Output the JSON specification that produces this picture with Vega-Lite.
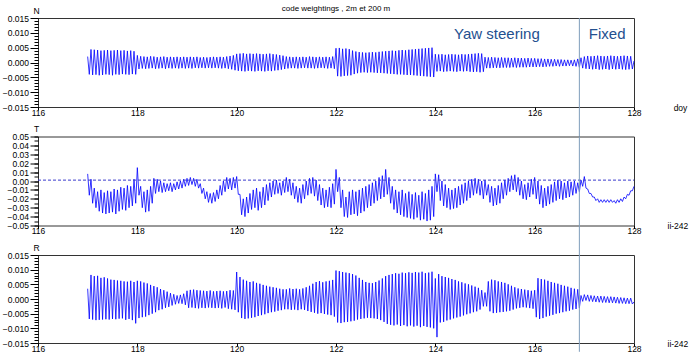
{
"$schema": "https://vega.github.io/schema/vega-lite/v6.json",
"padding": {"left": 1, "top": 4, "right": 0, "bottom": 0},
"bounds": "flush",
"spacing": 29.5,
"title": {"text": "code weightings , 2m et 200 m", "fontSize": 8, "fontWeight": "normal", "font": "Liberation Sans", "color": "#000000", "anchor": "middle", "frame": "group", "offset": -7},
"config": {
  "font": "Liberation Sans",
  "view": {"stroke": "#333333", "strokeWidth": 1},
  "axis": {"labelFont": "Liberation Sans", "labelFontSize": 8.5, "labelColor": "#000000", "tickColor": "#000000", "tickWidth": 1, "domain": false, "grid": false, "titleFont": "Liberation Sans", "titleFontWeight": "normal", "titleFontSize": 8.5, "titleColor": "#000000", "labelFlush": false, "labelOverlap": false}
},
"datasets": {"s": [
{"d":117,"n":0.0020,"t":0.008,"r":0.0035},{"d":117.033,"n":-0.0040,"t":-0.016,"r":-0.0068},{"d":117.067,"n":0.0044,"t":0.002,"r":0.0082},{"d":117.1,"n":-0.0042,"t":-0.025,"r":-0.0070},{"d":117.133,"n":0.0043,"t":-0.008,"r":0.0078},{"d":117.167,"n":-0.0041,"t":-0.030,"r":-0.0072},{"d":117.2,"n":0.0042,"t":-0.012,"r":0.0079},{"d":117.233,"n":-0.0043,"t":-0.034,"r":-0.0071},{"d":117.267,"n":0.0040,"t":-0.010,"r":0.0072},{"d":117.3,"n":-0.0042,"t":-0.036,"r":-0.0070},{"d":117.333,"n":0.0041,"t":-0.013,"r":0.0074},{"d":117.367,"n":-0.0040,"t":-0.037,"r":-0.0069},{"d":117.4,"n":0.0042,"t":-0.011,"r":0.0070},{"d":117.433,"n":-0.0041,"t":-0.036,"r":-0.0070},{"d":117.467,"n":0.0040,"t":-0.012,"r":0.0066},{"d":117.5,"n":-0.0043,"t":-0.035,"r":-0.0068},{"d":117.533,"n":0.0041,"t":-0.009,"r":0.0065},{"d":117.567,"n":-0.0040,"t":-0.037,"r":-0.0069},{"d":117.6,"n":0.0042,"t":-0.010,"r":0.0063},{"d":117.633,"n":-0.0041,"t":-0.034,"r":-0.0067},{"d":117.667,"n":0.0040,"t":-0.007,"r":0.0062},{"d":117.7,"n":-0.0039,"t":-0.032,"r":-0.0066},{"d":117.733,"n":0.0041,"t":-0.008,"r":0.0060},{"d":117.767,"n":-0.0040,"t":-0.033,"r":-0.0071},{"d":117.8,"n":0.0039,"t":-0.005,"r":0.0059},{"d":117.833,"n":-0.0041,"t":-0.030,"r":-0.0068},{"d":117.867,"n":0.0040,"t":-0.006,"r":0.0062},{"d":117.9,"n":-0.0039,"t":-0.028,"r":-0.0072},{"d":117.933,"n":0.0038,"t":0.002,"r":0.0058},{"d":117.967,"n":-0.0040,"t":-0.025,"r":-0.0083},
{"d":118,"n":0.0024,"t":0.015,"r":0.0062},{"d":118.033,"n":-0.0022,"t":-0.016,"r":-0.0065},{"d":118.067,"n":0.0021,"t":-0.006,"r":0.0060},{"d":118.1,"n":-0.0020,"t":-0.030,"r":-0.0062},{"d":118.133,"n":0.0020,"t":-0.012,"r":0.0056},{"d":118.167,"n":-0.0021,"t":-0.035,"r":-0.0060},{"d":118.2,"n":0.0019,"t":-0.010,"r":0.0053},{"d":118.233,"n":-0.0020,"t":-0.034,"r":-0.0055},{"d":118.267,"n":0.0021,"t":-0.006,"r":0.0048},{"d":118.3,"n":-0.0019,"t":-0.025,"r":-0.0050},{"d":118.333,"n":0.0020,"t":0.003,"r":0.0044},{"d":118.367,"n":-0.0021,"t":-0.014,"r":-0.0045},{"d":118.4,"n":0.0018,"t":0.002,"r":0.0040},{"d":118.433,"n":-0.0020,"t":-0.012,"r":-0.0038},{"d":118.467,"n":0.0019,"t":0.000,"r":0.0034},{"d":118.5,"n":-0.0019,"t":-0.013,"r":-0.0035},{"d":118.533,"n":0.0020,"t":-0.002,"r":0.0030},{"d":118.567,"n":-0.0021,"t":-0.012,"r":-0.0030},{"d":118.6,"n":0.0018,"t":-0.003,"r":0.0025},{"d":118.633,"n":-0.0019,"t":-0.011,"r":-0.0027},{"d":118.667,"n":0.0019,"t":-0.002,"r":0.0020},{"d":118.7,"n":-0.0020,"t":-0.012,"r":-0.0022},{"d":118.733,"n":0.0018,"t":-0.003,"r":0.0016},{"d":118.767,"n":-0.0019,"t":-0.010,"r":-0.0018},{"d":118.8,"n":0.0019,"t":-0.001,"r":0.0012},{"d":118.833,"n":-0.0020,"t":-0.009,"r":-0.0015},{"d":118.867,"n":0.0018,"t":0.000,"r":0.0014},{"d":118.9,"n":-0.0019,"t":-0.008,"r":-0.0016},{"d":118.933,"n":0.0019,"t":0.002,"r":0.0018},{"d":118.967,"n":-0.0020,"t":-0.006,"r":-0.0020},
{"d":119,"n":0.0018,"t":0.003,"r":0.0028},{"d":119.033,"n":-0.0019,"t":-0.005,"r":-0.0030},{"d":119.067,"n":0.0019,"t":0.004,"r":0.0031},{"d":119.1,"n":-0.0020,"t":-0.004,"r":-0.0029},{"d":119.133,"n":0.0018,"t":0.003,"r":0.0032},{"d":119.167,"n":-0.0018,"t":-0.006,"r":-0.0031},{"d":119.2,"n":0.0019,"t":0.002,"r":0.0030},{"d":119.233,"n":-0.0019,"t":-0.008,"r":-0.0032},{"d":119.267,"n":0.0017,"t":-0.003,"r":0.0029},{"d":119.3,"n":-0.0018,"t":-0.014,"r":-0.0030},{"d":119.333,"n":0.0018,"t":-0.008,"r":0.0028},{"d":119.367,"n":-0.0019,"t":-0.020,"r":-0.0031},{"d":119.4,"n":0.0017,"t":-0.012,"r":0.0027},{"d":119.433,"n":-0.0018,"t":-0.024,"r":-0.0029},{"d":119.467,"n":0.0018,"t":-0.014,"r":0.0029},{"d":119.5,"n":-0.0019,"t":-0.025,"r":-0.0030},{"d":119.533,"n":0.0019,"t":-0.013,"r":0.0026},{"d":119.567,"n":-0.0018,"t":-0.023,"r":-0.0031},{"d":119.6,"n":0.0018,"t":-0.010,"r":0.0027},{"d":119.633,"n":-0.0019,"t":-0.020,"r":-0.0030},{"d":119.667,"n":0.0019,"t":-0.005,"r":0.0028},{"d":119.7,"n":-0.0020,"t":-0.016,"r":-0.0032},{"d":119.733,"n":0.0018,"t":0.000,"r":0.0026},{"d":119.767,"n":-0.0019,"t":-0.012,"r":-0.0029},{"d":119.8,"n":0.0020,"t":0.004,"r":0.0027},{"d":119.833,"n":-0.0021,"t":-0.009,"r":-0.0033},{"d":119.867,"n":0.0022,"t":0.003,"r":0.0030},{"d":119.9,"n":-0.0023,"t":-0.010,"r":-0.0035},{"d":119.933,"n":0.0024,"t":0.004,"r":0.0029},{"d":119.967,"n":-0.0026,"t":-0.008,"r":-0.0037},
{"d":120,"n":0.0029,"t":0.005,"r":0.0092},{"d":120.033,"n":-0.0028,"t":-0.015,"r":-0.0045},{"d":120.067,"n":0.0030,"t":-0.015,"r":0.0075},{"d":120.1,"n":-0.0029,"t":-0.038,"r":-0.0065},{"d":120.133,"n":0.0031,"t":-0.020,"r":0.0066},{"d":120.167,"n":-0.0030,"t":-0.040,"r":-0.0068},{"d":120.2,"n":0.0029,"t":-0.018,"r":0.0062},{"d":120.233,"n":-0.0028,"t":-0.036,"r":-0.0066},{"d":120.267,"n":0.0030,"t":-0.014,"r":0.0058},{"d":120.3,"n":-0.0029,"t":-0.032,"r":-0.0064},{"d":120.333,"n":0.0029,"t":-0.010,"r":0.0060},{"d":120.367,"n":-0.0030,"t":-0.030,"r":-0.0062},{"d":120.4,"n":0.0030,"t":-0.008,"r":0.0055},{"d":120.433,"n":-0.0028,"t":-0.033,"r":-0.0058},{"d":120.467,"n":0.0029,"t":-0.012,"r":0.0052},{"d":120.5,"n":-0.0029,"t":-0.030,"r":-0.0055},{"d":120.533,"n":0.0028,"t":-0.007,"r":0.0048},{"d":120.567,"n":-0.0030,"t":-0.027,"r":-0.0052},{"d":120.6,"n":0.0029,"t":-0.004,"r":0.0045},{"d":120.633,"n":-0.0028,"t":-0.022,"r":-0.0048},{"d":120.667,"n":0.0030,"t":-0.002,"r":0.0042},{"d":120.7,"n":-0.0029,"t":-0.018,"r":-0.0045},{"d":120.733,"n":0.0028,"t":0.000,"r":0.0040},{"d":120.767,"n":-0.0027,"t":-0.015,"r":-0.0043},{"d":120.8,"n":0.0027,"t":0.001,"r":0.0038},{"d":120.833,"n":-0.0026,"t":-0.014,"r":-0.0040},{"d":120.867,"n":0.0025,"t":-0.002,"r":0.0035},{"d":120.9,"n":-0.0024,"t":-0.016,"r":-0.0038},{"d":120.933,"n":0.0023,"t":0.000,"r":0.0033},{"d":120.967,"n":-0.0022,"t":-0.013,"r":-0.0035},
{"d":121,"n":0.0020,"t":0.004,"r":0.0033},{"d":121.033,"n":-0.0020,"t":-0.012,"r":-0.0035},{"d":121.067,"n":0.0019,"t":0.002,"r":0.0036},{"d":121.1,"n":-0.0019,"t":-0.016,"r":-0.0037},{"d":121.133,"n":0.0018,"t":-0.002,"r":0.0034},{"d":121.167,"n":-0.0019,"t":-0.020,"r":-0.0036},{"d":121.2,"n":0.0019,"t":-0.006,"r":0.0035},{"d":121.233,"n":-0.0020,"t":-0.024,"r":-0.0038},{"d":121.267,"n":0.0018,"t":-0.008,"r":0.0033},{"d":121.3,"n":-0.0019,"t":-0.025,"r":-0.0035},{"d":121.333,"n":0.0019,"t":-0.004,"r":0.0036},{"d":121.367,"n":-0.0018,"t":-0.020,"r":-0.0037},{"d":121.4,"n":0.0018,"t":0.000,"r":0.0040},{"d":121.433,"n":-0.0019,"t":-0.016,"r":-0.0041},{"d":121.467,"n":0.0020,"t":0.003,"r":0.0045},{"d":121.5,"n":-0.0019,"t":-0.014,"r":-0.0044},{"d":121.533,"n":0.0019,"t":0.004,"r":0.0052},{"d":121.567,"n":-0.0020,"t":-0.017,"r":-0.0047},{"d":121.6,"n":0.0018,"t":0.001,"r":0.0058},{"d":121.633,"n":-0.0019,"t":-0.022,"r":-0.0050},{"d":121.667,"n":0.0019,"t":-0.004,"r":0.0061},{"d":121.7,"n":-0.0018,"t":-0.027,"r":-0.0048},{"d":121.733,"n":0.0018,"t":-0.008,"r":0.0057},{"d":121.767,"n":-0.0019,"t":-0.030,"r":-0.0051},{"d":121.8,"n":0.0019,"t":-0.010,"r":0.0060},{"d":121.833,"n":-0.0020,"t":-0.029,"r":-0.0053},{"d":121.867,"n":0.0018,"t":-0.007,"r":0.0062},{"d":121.9,"n":-0.0019,"t":-0.030,"r":-0.0055},{"d":121.933,"n":0.0020,"t":-0.003,"r":0.0065},{"d":121.967,"n":-0.0021,"t":-0.026,"r":-0.0060},
{"d":122,"n":0.0048,"t":0.013,"r":0.0097},{"d":122.033,"n":-0.0046,"t":-0.012,"r":-0.0080},{"d":122.067,"n":0.0049,"t":0.004,"r":0.0095},{"d":122.1,"n":-0.0047,"t":-0.030,"r":-0.0082},{"d":122.133,"n":0.0046,"t":-0.010,"r":0.0092},{"d":122.167,"n":-0.0045,"t":-0.040,"r":-0.0079},{"d":122.2,"n":0.0047,"t":-0.018,"r":0.0090},{"d":122.233,"n":-0.0044,"t":-0.041,"r":-0.0078},{"d":122.267,"n":0.0045,"t":-0.012,"r":0.0088},{"d":122.3,"n":-0.0043,"t":-0.038,"r":-0.0076},{"d":122.333,"n":0.0040,"t":-0.010,"r":0.0085},{"d":122.367,"n":-0.0039,"t":-0.037,"r":-0.0074},{"d":122.4,"n":0.0037,"t":-0.012,"r":0.0080},{"d":122.433,"n":-0.0036,"t":-0.039,"r":-0.0070},{"d":122.467,"n":0.0035,"t":-0.010,"r":0.0072},{"d":122.5,"n":-0.0034,"t":-0.036,"r":-0.0068},{"d":122.533,"n":0.0034,"t":-0.008,"r":0.0065},{"d":122.567,"n":-0.0033,"t":-0.034,"r":-0.0066},{"d":122.6,"n":0.0033,"t":-0.006,"r":0.0058},{"d":122.633,"n":-0.0034,"t":-0.030,"r":-0.0064},{"d":122.667,"n":0.0034,"t":-0.004,"r":0.0055},{"d":122.7,"n":-0.0033,"t":-0.028,"r":-0.0065},{"d":122.733,"n":0.0035,"t":-0.002,"r":0.0054},{"d":122.767,"n":-0.0034,"t":-0.025,"r":-0.0066},{"d":122.8,"n":0.0034,"t":0.000,"r":0.0058},{"d":122.833,"n":-0.0035,"t":-0.022,"r":-0.0068},{"d":122.867,"n":0.0036,"t":0.004,"r":0.0063},{"d":122.9,"n":-0.0035,"t":-0.020,"r":-0.0072},{"d":122.933,"n":0.0037,"t":0.006,"r":0.0070},{"d":122.967,"n":-0.0036,"t":-0.018,"r":-0.0078},
{"d":123,"n":0.0038,"t":0.013,"r":0.0078},{"d":123.033,"n":-0.0037,"t":-0.015,"r":-0.0085},{"d":123.067,"n":0.0039,"t":0.004,"r":0.0082},{"d":123.1,"n":-0.0038,"t":-0.025,"r":-0.0088},{"d":123.133,"n":0.0040,"t":-0.006,"r":0.0085},{"d":123.167,"n":-0.0039,"t":-0.032,"r":-0.0090},{"d":123.2,"n":0.0039,"t":-0.010,"r":0.0088},{"d":123.233,"n":-0.0040,"t":-0.036,"r":-0.0087},{"d":123.267,"n":0.0041,"t":-0.012,"r":0.0086},{"d":123.3,"n":-0.0040,"t":-0.038,"r":-0.0092},{"d":123.333,"n":0.0042,"t":-0.010,"r":0.0090},{"d":123.367,"n":-0.0041,"t":-0.040,"r":-0.0089},{"d":123.4,"n":0.0041,"t":-0.014,"r":0.0088},{"d":123.433,"n":-0.0042,"t":-0.041,"r":-0.0093},{"d":123.467,"n":0.0043,"t":-0.012,"r":0.0091},{"d":123.5,"n":-0.0042,"t":-0.042,"r":-0.0090},{"d":123.533,"n":0.0044,"t":-0.015,"r":0.0089},{"d":123.567,"n":-0.0043,"t":-0.043,"r":-0.0094},{"d":123.6,"n":0.0045,"t":-0.013,"r":0.0092},{"d":123.633,"n":-0.0044,"t":-0.041,"r":-0.0091},{"d":123.667,"n":0.0046,"t":-0.016,"r":0.0090},{"d":123.7,"n":-0.0045,"t":-0.044,"r":-0.0096},{"d":123.733,"n":0.0047,"t":-0.012,"r":0.0093},{"d":123.767,"n":-0.0046,"t":-0.043,"r":-0.0092},{"d":123.8,"n":0.0048,"t":-0.014,"r":0.0088},{"d":123.833,"n":-0.0047,"t":-0.045,"r":-0.0095},{"d":123.867,"n":0.0049,"t":-0.010,"r":0.0090},{"d":123.9,"n":-0.0048,"t":-0.044,"r":-0.0097},{"d":123.933,"n":0.0050,"t":-0.006,"r":0.0093},{"d":123.967,"n":-0.0049,"t":-0.040,"r":-0.0100},
{"d":124,"n":0.0028,"t":0.008,"r":0.0070},{"d":124.033,"n":-0.0030,"t":-0.012,"r":-0.0130},{"d":124.067,"n":0.0027,"t":0.007,"r":0.0085},{"d":124.1,"n":-0.0029,"t":-0.022,"r":-0.0080},{"d":124.133,"n":0.0028,"t":0.000,"r":0.0078},{"d":124.167,"n":-0.0031,"t":-0.028,"r":-0.0078},{"d":124.2,"n":0.0026,"t":-0.004,"r":0.0075},{"d":124.233,"n":-0.0030,"t":-0.030,"r":-0.0073},{"d":124.267,"n":0.0027,"t":-0.008,"r":0.0072},{"d":124.3,"n":-0.0029,"t":-0.032,"r":-0.0070},{"d":124.333,"n":0.0028,"t":-0.010,"r":0.0068},{"d":124.367,"n":-0.0030,"t":-0.031,"r":-0.0066},{"d":124.4,"n":0.0027,"t":-0.008,"r":0.0065},{"d":124.433,"n":-0.0031,"t":-0.030,"r":-0.0063},{"d":124.467,"n":0.0026,"t":-0.006,"r":0.0060},{"d":124.5,"n":-0.0029,"t":-0.027,"r":-0.0060},{"d":124.533,"n":0.0028,"t":-0.004,"r":0.0057},{"d":124.567,"n":-0.0030,"t":-0.025,"r":-0.0056},{"d":124.6,"n":0.0027,"t":-0.002,"r":0.0053},{"d":124.633,"n":-0.0029,"t":-0.022,"r":-0.0052},{"d":124.667,"n":0.0028,"t":0.000,"r":0.0050},{"d":124.7,"n":-0.0031,"t":-0.019,"r":-0.0049},{"d":124.733,"n":0.0029,"t":0.002,"r":0.0046},{"d":124.767,"n":-0.0032,"t":-0.016,"r":-0.0045},{"d":124.8,"n":0.0030,"t":0.003,"r":0.0042},{"d":124.833,"n":-0.0031,"t":-0.014,"r":-0.0042},{"d":124.867,"n":0.0031,"t":0.002,"r":0.0038},{"d":124.9,"n":-0.0033,"t":-0.016,"r":-0.0036},{"d":124.933,"n":0.0030,"t":0.000,"r":0.0030},{"d":124.967,"n":-0.0031,"t":-0.020,"r":-0.0025},
{"d":125,"n":0.0018,"t":0.001,"r":0.0022},{"d":125.033,"n":-0.0019,"t":-0.016,"r":-0.0025},{"d":125.067,"n":0.0017,"t":-0.004,"r":0.0060},{"d":125.1,"n":-0.0019,"t":-0.024,"r":-0.0042},{"d":125.133,"n":0.0018,"t":-0.006,"r":0.0066},{"d":125.167,"n":-0.0018,"t":-0.028,"r":-0.0048},{"d":125.2,"n":0.0017,"t":-0.008,"r":0.0064},{"d":125.233,"n":-0.0018,"t":-0.027,"r":-0.0047},{"d":125.267,"n":0.0016,"t":-0.005,"r":0.0060},{"d":125.3,"n":-0.0018,"t":-0.025,"r":-0.0045},{"d":125.333,"n":0.0017,"t":-0.002,"r":0.0058},{"d":125.367,"n":-0.0017,"t":-0.020,"r":-0.0044},{"d":125.4,"n":0.0016,"t":0.001,"r":0.0055},{"d":125.433,"n":-0.0017,"t":-0.016,"r":-0.0042},{"d":125.467,"n":0.0016,"t":0.003,"r":0.0050},{"d":125.5,"n":-0.0017,"t":-0.012,"r":-0.0040},{"d":125.533,"n":0.0015,"t":0.006,"r":0.0045},{"d":125.567,"n":-0.0016,"t":-0.010,"r":-0.0036},{"d":125.6,"n":0.0016,"t":0.007,"r":0.0040},{"d":125.633,"n":-0.0017,"t":-0.012,"r":-0.0032},{"d":125.667,"n":0.0015,"t":0.004,"r":0.0036},{"d":125.7,"n":-0.0016,"t":-0.016,"r":-0.0030},{"d":125.733,"n":0.0015,"t":0.000,"r":0.0034},{"d":125.767,"n":-0.0016,"t":-0.020,"r":-0.0028},{"d":125.8,"n":0.0014,"t":-0.004,"r":0.0032},{"d":125.833,"n":-0.0016,"t":-0.021,"r":-0.0029},{"d":125.867,"n":0.0015,"t":-0.002,"r":0.0030},{"d":125.9,"n":-0.0015,"t":-0.018,"r":-0.0031},{"d":125.933,"n":0.0014,"t":0.002,"r":0.0028},{"d":125.967,"n":-0.0015,"t":-0.015,"r":-0.0033},
{"d":126,"n":0.0014,"t":0.004,"r":0.0030},{"d":126.033,"n":-0.0015,"t":-0.020,"r":-0.0062},{"d":126.067,"n":0.0013,"t":0.000,"r":0.0071},{"d":126.1,"n":-0.0014,"t":-0.026,"r":-0.0068},{"d":126.133,"n":0.0013,"t":-0.005,"r":0.0068},{"d":126.167,"n":-0.0015,"t":-0.030,"r":-0.0065},{"d":126.2,"n":0.0012,"t":-0.008,"r":0.0066},{"d":126.233,"n":-0.0014,"t":-0.028,"r":-0.0060},{"d":126.267,"n":0.0012,"t":-0.006,"r":0.0062},{"d":126.3,"n":-0.0013,"t":-0.026,"r":-0.0057},{"d":126.333,"n":0.0011,"t":-0.004,"r":0.0058},{"d":126.367,"n":-0.0013,"t":-0.024,"r":-0.0054},{"d":126.4,"n":0.0011,"t":-0.001,"r":0.0055},{"d":126.433,"n":-0.0012,"t":-0.022,"r":-0.0050},{"d":126.467,"n":0.0010,"t":0.001,"r":0.0052},{"d":126.5,"n":-0.0013,"t":-0.020,"r":-0.0048},{"d":126.533,"n":0.0010,"t":0.000,"r":0.0048},{"d":126.567,"n":-0.0012,"t":-0.021,"r":-0.0045},{"d":126.6,"n":0.0009,"t":-0.002,"r":0.0045},{"d":126.633,"n":-0.0012,"t":-0.019,"r":-0.0042},{"d":126.667,"n":0.0009,"t":0.000,"r":0.0042},{"d":126.7,"n":-0.0011,"t":-0.018,"r":-0.0040},{"d":126.733,"n":0.0008,"t":-0.001,"r":0.0038},{"d":126.767,"n":-0.0012,"t":-0.016,"r":-0.0036},{"d":126.8,"n":0.0009,"t":0.000,"r":0.0035},{"d":126.833,"n":-0.0013,"t":-0.014,"r":-0.0034},{"d":126.867,"n":0.0012,"t":-0.002,"r":0.0033},{"d":126.9,"n":-0.0016,"t":-0.012,"r":-0.0030},{"d":126.933,"n":0.0016,"t":0.001,"r":0.0012},{"d":126.967,"n":-0.0019,"t":-0.006,"r":-0.0008},
{"d":127,"n":0.0020,"t":0.005,"r":0.0015},{"d":127.033,"n":-0.0021,"t":-0.008,"r":-0.0005},{"d":127.067,"n":0.0022,"t":-0.009,"r":0.0014},{"d":127.1,"n":-0.0022,"t":-0.014,"r":-0.0008},{"d":127.133,"n":0.0021,"t":-0.014,"r":0.0012},{"d":127.167,"n":-0.0023,"t":-0.018,"r":-0.0009},{"d":127.2,"n":0.0022,"t":-0.018,"r":0.0011},{"d":127.233,"n":-0.0022,"t":-0.022,"r":-0.0010},{"d":127.267,"n":0.0023,"t":-0.020,"r":0.0010},{"d":127.3,"n":-0.0024,"t":-0.024,"r":-0.0011},{"d":127.333,"n":0.0022,"t":-0.021,"r":0.0010},{"d":127.367,"n":-0.0023,"t":-0.024,"r":-0.0012},{"d":127.4,"n":0.0021,"t":-0.021,"r":0.0009},{"d":127.433,"n":-0.0022,"t":-0.024,"r":-0.0012},{"d":127.467,"n":0.0022,"t":-0.021,"r":0.0008},{"d":127.5,"n":-0.0024,"t":-0.024,"r":-0.0013},{"d":127.533,"n":0.0023,"t":-0.021,"r":0.0008},{"d":127.567,"n":-0.0022,"t":-0.024,"r":-0.0013},{"d":127.6,"n":0.0022,"t":-0.022,"r":0.0007},{"d":127.633,"n":-0.0023,"t":-0.025,"r":-0.0014},{"d":127.667,"n":0.0021,"t":-0.021,"r":0.0006},{"d":127.7,"n":-0.0022,"t":-0.024,"r":-0.0015},{"d":127.733,"n":0.0022,"t":-0.020,"r":0.0005},{"d":127.767,"n":-0.0023,"t":-0.023,"r":-0.0015},{"d":127.8,"n":0.0023,"t":-0.018,"r":0.0004},{"d":127.833,"n":-0.0024,"t":-0.020,"r":-0.0016},{"d":127.867,"n":0.0022,"t":-0.015,"r":0.0003},{"d":127.9,"n":-0.0023,"t":-0.016,"r":-0.0016},{"d":127.933,"n":0.0021,"t":-0.011,"r":0.0003},{"d":127.967,"n":-0.0022,"t":-0.011,"r":-0.0017},{"d":128,"n":0.0005,"t":-0.006,"r":-0.0010}
]},
"vconcat": [
{
  "width": 596, "height": 89,
  "resolve": {"axis": {"y": "independent"}},
  "layer": [
    {"data": {"name": "s"},
     "mark": {"type": "line", "color": "#0000ff", "strokeWidth": 0.8},
     "encoding": {
       "x": {"field": "d", "type": "quantitative", "scale": {"domain": [116, 128], "nice": false, "zero": false},
             "axis": {"values": [116,118,120,122,124,126,128], "format": "d", "tickSize": 3, "labelPadding": -2, "labelOverlap": false, "title": "doy", "titleX": 642, "titleY": 0, "titleAlign": "center", "titleBaseline": "middle"}},
       "y": {"field": "n", "type": "quantitative", "scale": {"domain": [-0.015, 0.015], "nice": false, "zero": false},
             "axis": {"orient": "left", "title": "N", "titleAngle": 0, "titleX": -2, "titleY": -8, "titleAlign": "center", "titleBaseline": "middle",
                      "values": [-0.015,-0.01,-0.005,0,0.005,0.01,0.015], "format": ".3f", "tickSize": 8, "labelPadding": 1.5, "labelOverlap": false, "labelFlush": false}}
     }},
    {"data": {"values": [{}]},
     "mark": {"type": "rule", "color": "#7f9dbb", "strokeWidth": 1},
     "encoding": {"x": {"datum": 126.9}, "y": {"datum": 0.015, "axis": {"orient": "left", "title": null, "labels": false, "tickSize": 4,
        "values": [-0.015,-0.014,-0.013,-0.012,-0.011,-0.01,-0.009,-0.008,-0.007,-0.006,-0.005,-0.004,-0.003,-0.002,-0.001,0,0.001,0.002,0.003,0.004,0.005,0.006,0.007,0.008,0.009,0.01,0.011,0.012,0.013,0.014,0.015]}}, "y2": {"datum": -0.025}}},
    {"data": {"values": [{}]},
     "mark": {"type": "text", "color": "#24508f", "fontSize": 15, "font": "Liberation Sans", "align": "center", "baseline": "middle"},
     "encoding": {"x": {"datum": 125.24}, "text": {"value": "Yaw steering"}, "y": {"datum": 0.0096, "axis": null}}},
    {"data": {"values": [{}]},
     "mark": {"type": "text", "color": "#24508f", "fontSize": 15, "font": "Liberation Sans", "align": "center", "baseline": "middle"},
     "encoding": {"x": {"datum": 127.46}, "text": {"value": "Fixed"}, "y": {"datum": 0.0096, "axis": null}}}
  ]
},
{
  "width": 596, "height": 89,
  "resolve": {"axis": {"y": "independent"}},
  "layer": [
    {"data": {"name": "s"},
     "mark": {"type": "line", "color": "#0000ff", "strokeWidth": 0.8},
     "encoding": {
       "x": {"field": "d", "type": "quantitative", "scale": {"domain": [116, 128], "nice": false, "zero": false},
             "axis": {"values": [116,118,120,122,124,126,128], "format": "d", "tickSize": 3, "labelPadding": -2, "labelOverlap": false, "title": "ii-242", "titleX": 629, "titleY": 0, "titleAlign": "left", "titleBaseline": "middle"}},
       "y": {"field": "t", "type": "quantitative", "scale": {"domain": [-0.05, 0.05], "nice": false, "zero": false},
             "axis": {"orient": "left", "title": "T", "titleAngle": 0, "titleX": -2, "titleY": -8, "titleAlign": "center", "titleBaseline": "middle",
                      "values": [-0.05,-0.04,-0.03,-0.02,-0.01,0,0.01,0.02,0.03,0.04,0.05], "format": ".2f", "tickSize": 8, "labelPadding": 1.5, "labelOverlap": false, "labelFlush": false}}
     }},
    {"data": {"values": [{}]},
     "mark": {"type": "rule", "color": "#3a3acc", "strokeWidth": 1, "strokeDash": [3, 2]},
     "encoding": {"x": {"datum": 116}, "x2": {"datum": 128}, "y": {"datum": 0.001, "axis": null}}},
    {"data": {"values": [{}]},
     "mark": {"type": "rule", "color": "#7f9dbb", "strokeWidth": 1},
     "encoding": {"x": {"datum": 126.9}, "y": {"datum": 0.05, "axis": {"orient": "left", "title": null, "labels": false, "tickSize": 4,
        "values": [-0.05,-0.045,-0.04,-0.035,-0.03,-0.025,-0.02,-0.015,-0.01,-0.005,0,0.005,0.01,0.015,0.02,0.025,0.03,0.035,0.04,0.045,0.05]}}, "y2": {"datum": -0.084}}}
  ]
},
{
  "width": 596, "height": 88,
  "resolve": {"axis": {"y": "independent"}},
  "layer": [
    {"data": {"name": "s"},
     "mark": {"type": "line", "color": "#0000ff", "strokeWidth": 0.8},
     "encoding": {
       "x": {"field": "d", "type": "quantitative", "scale": {"domain": [116, 128], "nice": false, "zero": false},
             "axis": {"values": [116,118,120,122,124,126,128], "format": "d", "tickSize": 3, "labelPadding": -2, "labelOverlap": false, "title": "ii-242", "titleX": 629, "titleY": 0, "titleAlign": "left", "titleBaseline": "middle"}},
       "y": {"field": "r", "type": "quantitative", "scale": {"domain": [-0.015, 0.015], "nice": false, "zero": false},
             "axis": {"orient": "left", "title": "R", "titleAngle": 0, "titleX": -2, "titleY": -8, "titleAlign": "center", "titleBaseline": "middle",
                      "values": [-0.015,-0.01,-0.005,0,0.005,0.01,0.015], "format": ".3f", "tickSize": 8, "labelPadding": 1.5, "labelOverlap": false, "labelFlush": false}}
     }},
    {"data": {"values": [{}]},
     "mark": {"type": "rule", "color": "#7f9dbb", "strokeWidth": 1},
     "encoding": {"x": {"datum": 126.9}, "y": {"datum": 0.015, "axis": {"orient": "left", "title": null, "labels": false, "tickSize": 4,
        "values": [-0.015,-0.014,-0.013,-0.012,-0.011,-0.01,-0.009,-0.008,-0.007,-0.006,-0.005,-0.004,-0.003,-0.002,-0.001,0,0.001,0.002,0.003,0.004,0.005,0.006,0.007,0.008,0.009,0.01,0.011,0.012,0.013,0.014,0.015]}}, "y2": {"datum": -0.018}}}
  ]
}
]
}
